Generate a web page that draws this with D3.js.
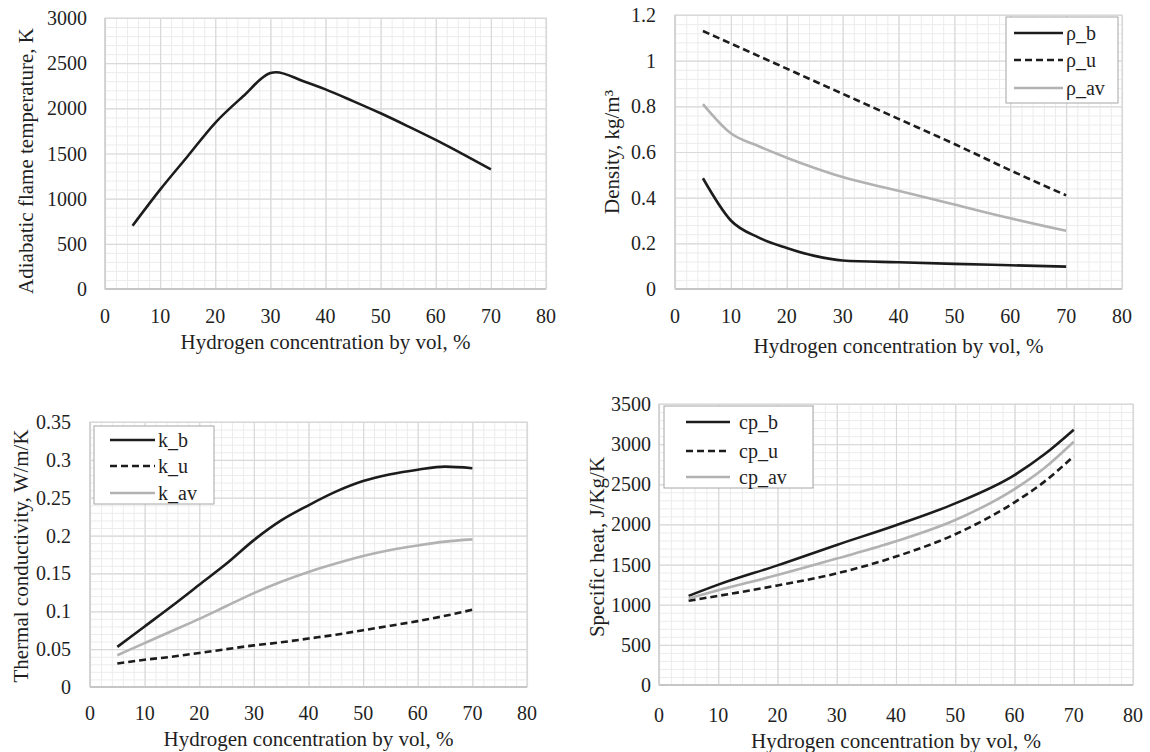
<!DOCTYPE html>
<html><head><meta charset="utf-8">
<script src="https://cdn.jsdelivr.net/npm/d3@7"></script>
<style>
body{margin:0;background:#fff;}
svg text{font-family:"Liberation Serif","Times New Roman",Tinos,Times,"DejaVu Serif","Noto Serif",serif;fill:#1f1f1f;}
</style></head>
<body><svg id="c" width="1150" height="752"></svg>
<script>
// ---------- data ----------
const xTicks = [0,10,20,30,40,50,60,70,80];

const tempX = [5,10,15,20,25,30,31,36,40,45,50,55,60,65,70];
const tempT = [700,1100,1470,1840,2130,2390,2400,2300,2210,2080,1945,1800,1650,1490,1325];
const tempYTicks = [0,500,1000,1500,2000,2500,3000];

const rhoX   = [5,10,15,20,25,30,40,50,60,70];
const rhoB   = [0.485,0.30,0.225,0.18,0.145,0.125,0.117,0.110,0.104,0.098];
const rhoU   = [1.13,1.075,1.02,0.965,0.91,0.855,0.745,0.635,0.52,0.41];
const rhoAv  = [0.81,0.682,0.625,0.575,0.53,0.49,0.43,0.37,0.31,0.255];
const rhoYTicks = ["0","0.2","0.4","0.6","0.8","1","1.2"];

const kX   = [5,10,15,20,25,30,35,40,45,50,55,60,65,70];
const kB   = [0.053,0.080,0.107,0.135,0.163,0.194,0.220,0.240,0.258,0.272,0.281,0.287,0.291,0.289];
const kU   = [0.031,0.036,0.040,0.045,0.050,0.055,0.059,0.064,0.069,0.075,0.081,0.087,0.094,0.102];
const kAv  = [0.042,0.058,0.074,0.090,0.107,0.124,0.139,0.152,0.163,0.173,0.181,0.187,0.192,0.195];
const kYTicks = ["0","0.05","0.1","0.15","0.2","0.25","0.3","0.35"];

const cpX  = [5,10,20,30,40,50,60,65,70];
const cpB  = [1110,1250,1490,1745,1990,2262,2615,2870,3180];
const cpU  = [1050,1110,1240,1390,1600,1878,2275,2530,2850];
const cpAv = [1080,1180,1370,1575,1790,2055,2440,2700,3030];
const cpYTicks = [0,500,1000,1500,2000,2500,3000,3500];

const xTitle = "Hydrogen concentration by vol, %";

// ---------- drawing ----------
const svg = d3.select("#c");
const BLACK = "#1c1c1c", GRAY = "#b2b2b2";
const FONT = "'Liberation Serif','Times New Roman',Tinos,Times,'DejaVu Serif','Noto Serif',serif";

function panel(cfg){
  const g = svg.append("g").attr("font-family",FONT);
  const x = d3.scaleLinear().domain([0,80]).range([cfg.l,cfg.r]);
  const yTickVals = cfg.yTicks.map(Number);
  const ymax = d3.max(yTickVals);
  const y = d3.scaleLinear().domain([0,ymax]).range([cfg.b,cfg.t]);
  const majorY = yTickVals[1]-yTickVals[0];
  const minorX = d3.range(0,80.001,2);
  const minorY = d3.range(0,ymax*1.00001,majorY/5);
  g.append("g").call(d3.axisBottom(x).tickValues(minorX).tickSize(-(cfg.b-cfg.t)).tickFormat(""))
    .attr("transform",`translate(0,${cfg.b})`)
    .call(s=>{s.select(".domain").remove();s.selectAll("line").attr("stroke","#ececec").attr("stroke-width",1);});
  g.append("g").call(d3.axisLeft(y).tickValues(minorY).tickSize(-(cfg.r-cfg.l)).tickFormat(""))
    .attr("transform",`translate(${cfg.l},0)`)
    .call(s=>{s.select(".domain").remove();s.selectAll("line").attr("stroke","#ececec").attr("stroke-width",1);});
  g.append("g").call(d3.axisBottom(x).tickValues(xTicks).tickSize(-(cfg.b-cfg.t)).tickFormat(""))
    .attr("transform",`translate(0,${cfg.b})`)
    .call(s=>{s.select(".domain").remove();s.selectAll("line").attr("stroke","#d9d9d9").attr("stroke-width",1.2);});
  g.append("g").call(d3.axisLeft(y).tickValues(yTickVals).tickSize(-(cfg.r-cfg.l)).tickFormat(""))
    .attr("transform",`translate(${cfg.l},0)`)
    .call(s=>{s.select(".domain").remove();s.selectAll("line").attr("stroke","#d9d9d9").attr("stroke-width",1.2);});
  g.append("rect").attr("x",cfg.l).attr("y",cfg.t).attr("width",cfg.r-cfg.l).attr("height",cfg.b-cfg.t)
    .attr("fill","none").attr("stroke","#d9d9d9").attr("stroke-width",1.2);
  g.append("line").attr("x1",cfg.l).attr("x2",cfg.r).attr("y1",cfg.b).attr("y2",cfg.b).attr("stroke","#c6c6c6").attr("stroke-width",2);
  g.append("line").attr("x1",cfg.l).attr("x2",cfg.l).attr("y1",cfg.t).attr("y2",cfg.b).attr("stroke","#cfcfcf").attr("stroke-width",1.5);
  g.append("g").selectAll("text").data(xTicks).join("text")
    .attr("x",d=>x(d)).attr("y",cfg.xLabY).attr("text-anchor","middle").attr("dominant-baseline","central")
    .attr("font-size","20px").text(d=>d);
  g.append("g").selectAll("text").data(cfg.yTicks).join("text")
    .attr("x",cfg.l-cfg.gap).attr("y",d=>y(+d)).attr("text-anchor","end").attr("dominant-baseline","central")
    .attr("font-size","20px").text(d=>d);
  g.append("text").attr("x",(cfg.l+cfg.r)/2).attr("y",cfg.xTitleY).attr("text-anchor","middle")
    .attr("dominant-baseline","central").attr("font-size","21px").text(xTitle);
  g.append("text").attr("transform",`translate(${cfg.yTitleX},${cfg.yTitleY}) rotate(-90)`)
    .attr("text-anchor","middle").attr("dominant-baseline","central").attr("font-size","21px").text(cfg.yTitle);
  const line = d3.line().x(d=>x(d[0])).y(d=>y(d[1])).curve(d3.curveMonotoneX);
  cfg.series.forEach(s=>{
    g.append("path").datum(s.xs.map((v,i)=>[v,s.ys[i]])).attr("d",line)
      .attr("fill","none").attr("stroke",s.color).attr("stroke-width",2.6)
      .attr("stroke-dasharray",s.dash||null).attr("stroke-linejoin","round");
  });
  if(cfg.legend){
    const L = cfg.legend;
    g.append("rect").attr("x",L.x0).attr("y",L.y0).attr("width",L.x1-L.x0).attr("height",L.y1-L.y0)
      .attr("fill","#fff").attr("stroke","#a6a6a6").attr("stroke-width",1);
    cfg.series.forEach((s,i)=>{
      const yy = L.rows[i];
      g.append("line").attr("x1",L.s0).attr("x2",L.s1).attr("y1",yy).attr("y2",yy)
        .attr("stroke",s.color).attr("stroke-width",2.6).attr("stroke-dasharray",s.dash||null);
      g.append("text").attr("x",L.tx).attr("y",yy).attr("dominant-baseline","central")
        .attr("font-size","20px").text(s.name);
    });
  }
}

panel({l:105,t:18,r:546,b:289,gap:18,yTicks:tempYTicks,xLabY:316,xTitleY:342,yTitleX:26,yTitleY:161,
  yTitle:"Adiabatic flame temperature, K",
  series:[{name:"T",xs:tempX,ys:tempT,color:BLACK}]});

panel({l:675,t:15,r:1122,b:289,gap:19,yTicks:rhoYTicks,xLabY:316,xTitleY:346,yTitleX:612,yTitleY:152,
  yTitle:"Density, kg/m³",
  series:[{name:"ρ_b",xs:rhoX,ys:rhoB,color:BLACK},
          {name:"ρ_u",xs:rhoX,ys:rhoU,color:BLACK,dash:"7,4"},
          {name:"ρ_av",xs:rhoX,ys:rhoAv,color:GRAY}],
  legend:{x0:1006,x1:1118,y0:17,y1:103,rows:[33,60,88],s0:1014,s1:1063,tx:1066}});

panel({l:90,t:422,r:527,b:687,gap:19,yTicks:kYTicks,xLabY:713,xTitleY:739,yTitleX:21,yTitleY:556,
  yTitle:"Thermal conductivity, W/m/K",
  series:[{name:"k_b",xs:kX,ys:kB,color:BLACK},
          {name:"k_u",xs:kX,ys:kU,color:BLACK,dash:"7,4"},
          {name:"k_av",xs:kX,ys:kAv,color:GRAY}],
  legend:{x0:94,x1:214,y0:426,y1:504,rows:[440,466,493],s0:110,s1:155,tx:158}});

panel({l:659,t:404,r:1133,b:685,gap:8,yTicks:cpYTicks,xLabY:715,xTitleY:741,yTitleX:597,yTitleY:547,
  yTitle:"Specific heat, J/Kg/K",
  series:[{name:"cp_b",xs:cpX,ys:cpB,color:BLACK},
          {name:"cp_u",xs:cpX,ys:cpU,color:BLACK,dash:"7,4"},
          {name:"cp_av",xs:cpX,ys:cpAv,color:GRAY}],
  legend:{x0:664,x1:813,y0:406,y1:488,rows:[422,451,477],s0:686,s1:730,tx:739}});
</script></body></html>
